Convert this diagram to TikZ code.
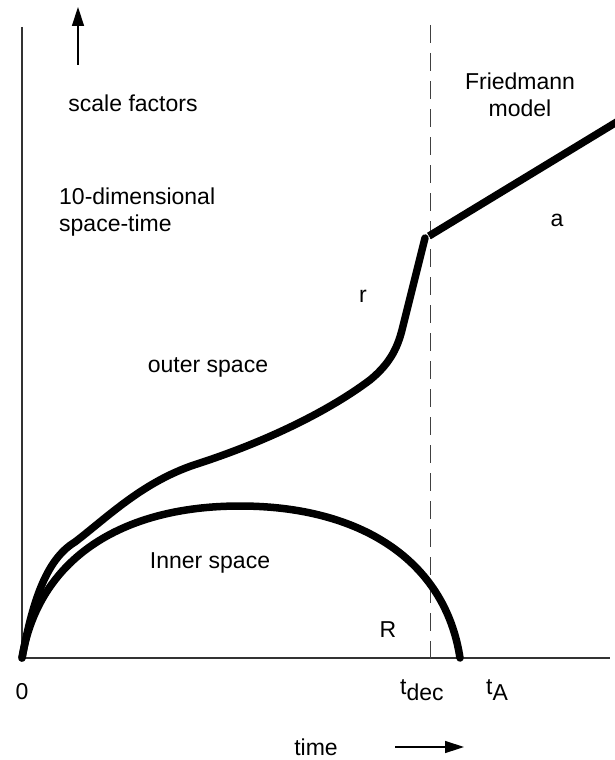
\documentclass[tikz,border=0pt]{standalone}
\usepackage{fontspec}
\setmainfont{Liberation Sans}
\usetikzlibrary{arrows.meta}
\begin{document}
\begin{tikzpicture}[x=1pt,y=-1pt,
  lbl/.style={inner sep=0pt,font=\fontsize{23}{27}\selectfont},
  axis/.style={line width=1.3pt,draw=black!80},
  curve/.style={line width=7.5pt,line cap=round,line join=round},
  arr/.style={line width=1.4pt,-{Triangle[length=19pt,width=12pt]}}]
\useasboundingbox (0,0) rectangle (614,760);
\coordinate (O) at (22,658);
\coordinate (ytop) at (22,27);
\coordinate (xend) at (610,658);
\draw[axis] (ytop) -- (O) -- (xend);
\coordinate (ua1) at (78,65);
\coordinate (ua2) at (78,7);
\draw[arr] (ua1) -- (ua2);
\coordinate (d1) at (430,25);
\coordinate (d2) at (430,668);
\draw[line width=1pt,draw=black!75,dash pattern=on 18pt off 10pt] (d1) -- (d2);
\coordinate (ta1) at (395,747);
\coordinate (ta2) at (464,747);
\draw[arr] (ta1) -- (ta2);
% curves
\coordinate (Rend) at (460,658);
\draw[curve] (O) .. controls (38,560) and (120,506) .. (240,506) .. controls (360,506) and (445,560) .. (Rend);
\coordinate (rtop) at (425,238);
\draw[curve] (O) .. controls (32,605) and (45,560) .. (75,542) .. controls (110,515) and (145,480) .. (200,463) .. controls (270,440) and (330,410) .. (370,380) .. controls (392,362) and (398,345) .. (402,330) -- (rtop);
\coordinate (a1) at (429,236);
\coordinate (a2) at (620,120);
\draw[curve,line cap=butt] (a1) -- (a2);
% labels
\node[lbl] (sf) at (133,103) {scale factors};
\node[lbl,align=left,anchor=west] (tdim) at (59,212) {10-dimensional\\space-time};
\node[lbl,align=center] (fm) at (520,95) {Friedmann\\model};
\node[lbl] (la) at (557,220) {a};
\node[lbl] (lr) at (363,296) {r};
\node[lbl] (os) at (208,367) {outer space};
\node[lbl] (is) at (210,563) {Inner space};
\node[lbl] (lR) at (388,630) {R};
\node[lbl] (l0) at (22,692) {0};
\node[lbl,anchor=west] (ldec) at (400,690) {t\raisebox{-6pt}{dec}};
\node[lbl,anchor=west] (lA) at (486,690) {t\raisebox{-6pt}{A}};
\node[lbl] (tm) at (316,747) {time};
\end{tikzpicture}
\end{document}
